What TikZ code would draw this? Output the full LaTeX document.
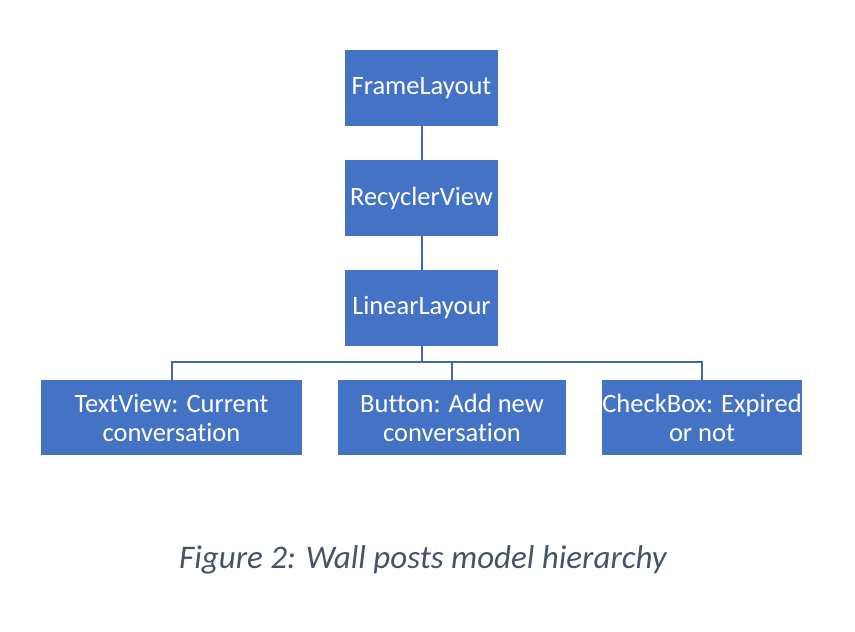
\documentclass[tikz,border=0pt]{standalone}
\usepackage{fontspec}
\setmainfont{Carlito}[Ligatures={NoCommon,NoRequired},RawFeature={-liga;-clig;-dlig}]
\definecolor{boxblue}{HTML}{4472C4}
\definecolor{lineblue}{HTML}{3F68B0}
\definecolor{captiongray}{HTML}{44546A}
\begin{document}
\begin{tikzpicture}[x=1pt,y=-1pt,
  box/.style={fill=boxblue,text=white,inner sep=0pt,align=center,font=\fontsize{26.5}{29}\selectfont},
  conn/.style={draw=lineblue,line width=2pt}]
\useasboundingbox[fill=white] (0,0) rectangle (855,632);
\node[box,minimum width=153pt,minimum height=76pt] (frame) at (421.5,88) {FrameLayout};
\node[box,minimum width=153pt,minimum height=76pt] (recycler) at (421.5,198) {RecyclerView};
\node[box,minimum width=153pt,minimum height=76pt] (linear) at (421.5,308) {LinearLayour};
\node[box,minimum width=261pt,minimum height=75pt] (text) at (171.5,417.5) {TextView: Current\\conversation};
\node[box,minimum width=228pt,minimum height=75pt] (button) at (452,417.5) {Button: Add new\\conversation};
\node[box,minimum width=200pt,minimum height=75pt] (check) at (702,417.5) {CheckBox: Expired\\or not};
\coordinate (bus) at (421.5,362);
\draw[conn] (frame.south) -- (recycler.north);
\draw[conn] (recycler.south) -- (linear.north);
\draw[conn] (linear.south) -- (bus);
\draw[conn] (text.north) -- (text.north |- bus) -- (check.north |- bus) -- (check.north);
\draw[conn] (button.north |- bus) -- (button.north);
\node[font=\fontsize{33}{38}\selectfont\itshape,text=captiongray] (caption) at (423,560) {Figure 2: Wall posts model hierarchy};
\end{tikzpicture}
\end{document}
